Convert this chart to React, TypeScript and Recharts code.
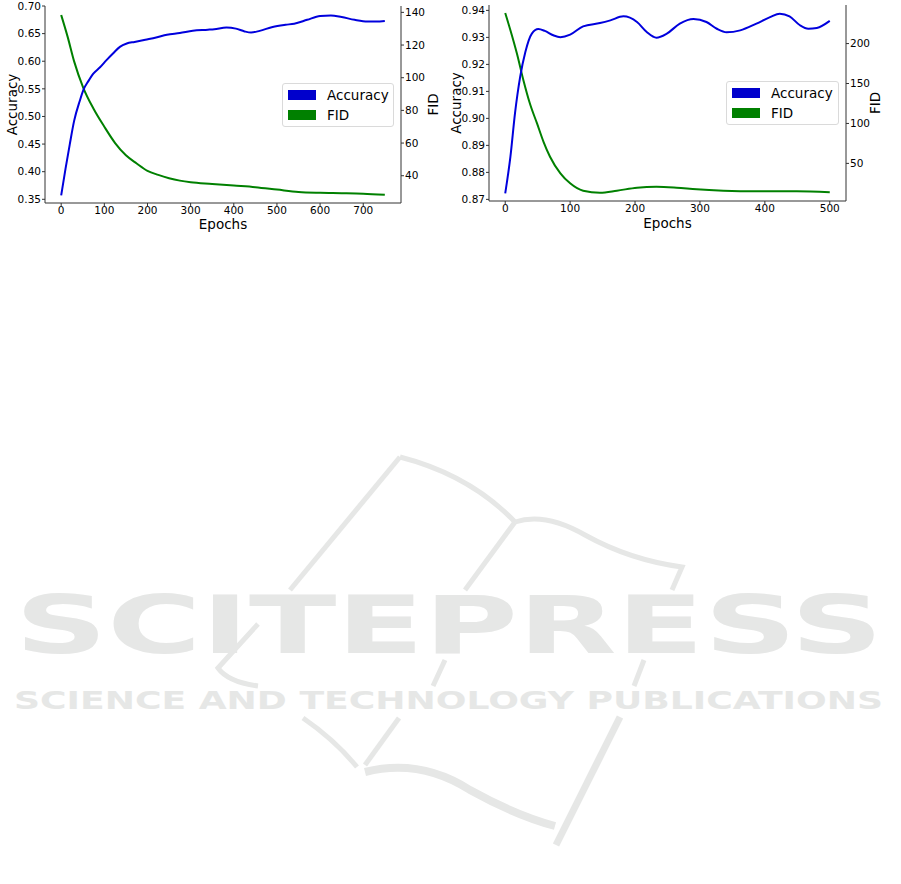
import { LineChart, Line, XAxis, YAxis, Legend } from 'recharts';

// left panel: 750 epochs
const leftAccEpochs = [0, 10, 20, 30, 43, 52, 63, 75, 90, 105, 120, 136, 152, 170, 195, 220, 245, 275, 305, 340, 355, 383, 405, 425, 440, 460, 490, 520, 540, 570, 600, 625, 650, 680, 710, 730, 750];
const leftAcc = [0.357, 0.405, 0.45, 0.492, 0.528, 0.549, 0.564, 0.578, 0.589, 0.602, 0.614, 0.626, 0.632, 0.635, 0.639, 0.643, 0.648, 0.651, 0.655, 0.657, 0.658, 0.661, 0.659, 0.654, 0.652, 0.655, 0.662, 0.666, 0.668, 0.675, 0.682, 0.683, 0.68, 0.675, 0.672, 0.672, 0.673];
const leftFidEpochs = [0, 15, 30, 51, 75, 100, 125, 150, 175, 200, 225, 250, 275, 300, 350, 400, 450, 500, 550, 600, 650, 700, 750];
const leftFid = [138.4, 125, 110, 94, 81, 70, 60, 52.5, 47.5, 43, 40.5, 38.5, 37, 36, 35, 34, 33, 31.5, 30, 29.5, 29.3, 29, 28.3];
const leftXTicks = [0, 100, 200, 300, 400, 500, 600, 700];
const leftAccTicks = [0.35, 0.4, 0.45, 0.5, 0.55, 0.6, 0.65, 0.7];
const leftFidTicks = [40, 60, 80, 100, 120, 140];

// right panel: 500 epochs
const rightAccEpochs = [0, 8, 15, 23, 31, 41, 51, 61, 74, 85, 100, 120, 146, 162, 182, 203, 218, 233, 249, 269, 290, 310, 326, 341, 362, 387, 408, 423, 438, 454, 467, 480, 500];
const rightAcc = [0.8722, 0.8858, 0.9018, 0.9154, 0.9246, 0.9314, 0.9331, 0.9324, 0.9308, 0.9301, 0.931, 0.9341, 0.9353, 0.9363, 0.9378, 0.9357, 0.932, 0.9299, 0.9314, 0.9351, 0.9368, 0.9357, 0.9332, 0.9319, 0.9326, 0.9351, 0.9375, 0.9388, 0.9378, 0.9345, 0.9332, 0.9335, 0.9361];
const rightFidEpochs = [0, 8, 18, 28, 38, 49, 59, 69, 85, 100, 120, 146, 172, 203, 233, 264, 295, 336, 387, 449, 500];
const rightFid = [238.3, 216.7, 187.5, 154.2, 125, 100, 77, 58.3, 37.5, 25, 15.8, 13.3, 15.8, 19.6, 20.8, 19.6, 17.5, 15.8, 15, 15, 13.8];
const rightXTicks = [0, 100, 200, 300, 400, 500];
const rightAccTicks = [0.87, 0.88, 0.89, 0.9, 0.91, 0.92, 0.93, 0.94];
const rightFidTicks = [50, 100, 150, 200];

const BLUE = '#0000dd';
const GREEN = '#008000';
const FONT = '"DejaVu Sans", sans-serif';
const tickStyle = { fill: '#000', fontSize: 10.5, fontFamily: FONT };
const labelStyle = { fill: '#000', fontSize: 13.5, fontFamily: FONT };
const spine = { stroke: '#333', strokeWidth: 1 };

const zip = (xs: number[], ys: number[]) => xs.map((epoch, i) => ({ epoch, value: ys[i] }));

function LegendBox({ w, h, textLeft }: { w: number; h: number; textLeft: number }) {
  const row = (color: string, label: string, top: number) => (
    <div style={{ position: 'absolute', left: 0, top, height: 10, width: '100%' }}>
      <div style={{ position: 'absolute', left: 4.5, top: 0, width: 28, height: 10, background: color }} />
      <div style={{ position: 'absolute', left: textLeft, top: -5, lineHeight: '20px', whiteSpace: 'nowrap' }}>{label}</div>
    </div>
  );
  return (
    <div style={{
      position: 'relative', width: w, height: h, boxSizing: 'border-box',
      border: '1px solid #dadada', borderRadius: 3, background: 'rgba(255,255,255,0.8)',
      fontFamily: FONT, fontSize: 13.5, color: '#000',
    }}>
      {row('#0000cc', 'Accuracy', 5.5)}
      {row(GREEN, 'FID', 25.5)}
    </div>
  );
}

interface PanelProps {
  width: number;
  height: number;
  top: number;
  left: number;
  leftW: number;
  rightW: number;
  bottomH: number;
  xDomain: [number, number];
  xTicks: number[];
  accDomain: [number, number];
  accTicks: number[];
  fidDomain: [number, number];
  fidTicks: number[];
  acc: { epoch: number; value: number }[];
  fid: { epoch: number; value: number }[];
  accDx: number;
  fidDx: number;
  legend: { left: number; top: number; w: number; h: number; textLeft: number };
}

function Panel(p: PanelProps) {
  return (
    <LineChart width={p.width} height={p.height} margin={{ top: p.top, right: 0, bottom: 0, left: p.left }}>
      <XAxis
        xAxisId="b" dataKey="epoch" type="number" domain={p.xDomain} ticks={p.xTicks}
        allowDataOverflow height={p.bottomH} tickSize={3} tickMargin={1}
        tick={tickStyle} axisLine={spine} tickLine={spine}
        label={{ value: 'Epochs', position: 'center', dy: 5.5, style: labelStyle }}
      />
      <XAxis xAxisId="t" orientation="top" type="number" domain={p.xDomain} height={0} tick={false} tickLine={false} axisLine={spine} />
      <YAxis
        yAxisId="acc" type="number" domain={p.accDomain} ticks={p.accTicks} allowDataOverflow
        width={p.leftW} tickSize={3} tickMargin={1} tick={tickStyle} axisLine={spine} tickLine={spine}
        tickFormatter={(v: number) => v.toFixed(2)}
        label={{ value: 'Accuracy', angle: -90, position: 'center', dx: p.accDx, style: labelStyle }}
      />
      <YAxis
        yAxisId="fid" orientation="right" type="number" domain={p.fidDomain} ticks={p.fidTicks} allowDataOverflow
        width={p.rightW} tickSize={3} tickMargin={1} tick={tickStyle} axisLine={spine} tickLine={spine}
        label={{ value: 'FID', angle: -90, position: 'center', dx: p.fidDx, style: labelStyle }}
      />
      <Line xAxisId="b" yAxisId="fid" data={p.fid} dataKey="value" name="FID" type="monotone"
        stroke={GREEN} strokeWidth={2} dot={false} isAnimationActive={false} />
      <Line xAxisId="b" yAxisId="acc" data={p.acc} dataKey="value" name="Accuracy" type="monotone"
        stroke={BLUE} strokeWidth={2} dot={false} isAnimationActive={false} />
      <Legend
        layout="horizontal" verticalAlign="middle" align="center"
        wrapperStyle={{ left: p.legend.left, top: p.legend.top, width: p.legend.w, height: p.legend.h, margin: 0 }}
        content={() => <LegendBox w={p.legend.w} h={p.legend.h} textLeft={p.legend.textLeft} />}
      />
    </LineChart>
  );
}

function Watermark() {
  const c = '#e6e7e6';
  return (
    <svg width={901} height={884} style={{ position: 'absolute', left: 0, top: 0 }}>
      <g fill="none" stroke={c} strokeWidth={5} strokeLinecap="butt">
        <path d="M 290 590 L 400 457" />
        <path d="M 400 457 Q 470 475 515 522" />
        <path d="M 515 522 Q 545 512 585 535 Q 630 560 682 567 L 672 590" />
        <path d="M 515 522 L 465 590" />
        <path d="M 258 624 L 218 668 Q 228 682 258 686" />
        <path d="M 445 660 L 433 686" />
        <path d="M 644 660 L 634 686" />
        <path d="M 303 718 Q 335 740 357 767" />
        <path d="M 399 718 L 365 765" />
        <path d="M 365 772 Q 420 758 470 790 Q 515 815 555 826" strokeWidth={8} />
        <path d="M 556 845 L 620 717" strokeWidth={7} />
      </g>
      <text x={15} y={653} fill={c} fontFamily={FONT} fontWeight="bold" fontSize={81}
        textLength={868} lengthAdjust="spacingAndGlyphs">SCITEPRESS</text>
      <text x={14} y={709} fill={c} fontFamily={FONT} fontWeight="bold" fontSize={24}
        textLength={869} lengthAdjust="spacingAndGlyphs">SCIENCE AND TECHNOLOGY PUBLICATIONS</text>
    </svg>
  );
}

export default function App() {
  return (
    <div style={{ position: 'absolute', left: 0, top: 0, width: 901, height: 884, background: '#fff', overflow: 'hidden' }}>
      <Watermark />
      <div style={{ position: 'absolute', left: 0, top: 0 }}>
        <Panel
          width={440} height={235} top={6} left={0} leftW={45} rightW={39} bottomH={32}
          xDomain={[-37.5, 787.5]} xTicks={leftXTicks}
          accDomain={[0.3433, 0.7]} accTicks={leftAccTicks}
          fidDomain={[23.3, 143.9]} fidTicks={leftFidTicks}
          acc={zip(leftAccEpochs, leftAcc)} fid={zip(leftFidEpochs, leftFid)}
          accDx={-10.5} fidDx={12.5}
          legend={{ left: 282, top: 83, w: 112, h: 44, textLeft: 44 }}
        />
      </div>
      <div style={{ position: 'absolute', left: 440, top: 0 }}>
        <Panel
          width={461} height={235} top={5} left={10} leftW={39} rightW={55} bottomH={34}
          xDomain={[-25, 525]} xTicks={rightXTicks}
          accDomain={[0.8694, 0.942]} accTicks={rightAccTicks}
          fidDomain={[2.9, 248.3]} fidTicks={rightFidTicks}
          acc={zip(rightAccEpochs, rightAcc)} fid={zip(rightFidEpochs, rightFid)}
          accDx={-13.5} fidDx={2}
          legend={{ left: 286, top: 81, w: 113, h: 44, textLeft: 44 }}
        />
      </div>
    </div>
  );
}
